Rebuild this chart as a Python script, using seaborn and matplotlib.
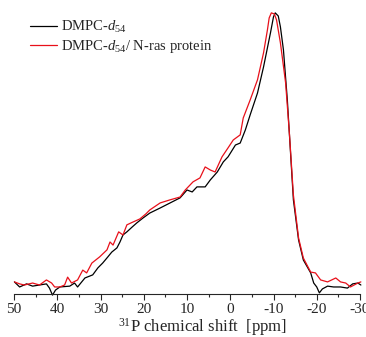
import numpy as np
import pandas as pd
import seaborn as sns
import matplotlib
matplotlib.use("Agg")
import matplotlib.pyplot as plt

# values (ppm, relative intensity)
ppm_lipid = [49.9, 48.7, 47.1, 45.7, 44.1, 42.5, 41.8, 41.1, 40.4, 39.4, 37.1, 36.0,
             35.3, 33.6, 31.8, 30.6, 29.5, 28.3, 27.4, 26.2, 25.5, 24.8, 23.9, 22.7,
             21.6, 20.2, 18.6, 16.2, 13.9, 11.6, 10.0, 8.8, 7.7, 5.8, 4.6, 3.0, 1.6,
             0.5, -1.2, -2.3, -3.5, -4.6, -6.3, -7.7, -9.3, -10.0, -10.4, -11.1,
             -11.6, -12.3, -13.2, -13.9, -14.6, -15.8, -16.9, -18.6, -19.3, -20.0,
             -20.6, -21.3, -22.5, -23.9, -25.5, -27.1, -28.3, -29.5, -30.2]
int_lipid = [4.3, 2.5, 3.6, 2.8, 3.2, 3.6, 2.1, -0.4, 1.4, 2.5, 2.8, 3.9,
             2.5, 5.7, 6.8, 9.3, 11.0, 13.2, 14.9, 16.4, 18.5, 21.0, 22.1, 23.8,
             25.3, 27.0, 28.8, 30.6, 32.4, 34.2, 37.0, 36.3, 38.1, 38.1, 40.6, 43.4, 47.0,
             48.8, 53.0, 53.7, 58.4, 63.7, 71.5, 80.8, 92.9, 98.6, 100.0, 98.9,
             95.0, 86.8, 69.0, 51.2, 33.5, 19.2, 12.1, 7.5, 3.9, 2.5,
             0.4, 1.8, 2.8, 2.5, 2.5, 2.1, 3.6, 3.9, 3.2]

ppm_ras = [49.9, 48.7, 47.6, 45.7, 44.1, 42.5, 41.3, 40.6, 39.4, 38.3, 37.6, 36.7,
           35.3, 34.1, 33.2, 32.0, 30.2, 28.5, 27.8, 27.1, 25.8, 24.8, 23.9, 22.5,
           20.9, 19.5, 18.6, 16.2, 13.9, 11.6, 10.4, 8.6, 7.0, 5.8, 4.6, 3.5, 1.9,
           0.5, -0.7, -2.3, -3.0, -4.6, -6.3, -7.7, -8.6, -9.0, -9.5, -10.2, -10.7,
           -11.6, -12.8, -13.7, -14.6, -15.8, -16.9, -18.6, -19.7, -20.9, -22.5,
           -24.4, -25.5, -26.7, -27.8, -29.5, -30.2]
int_ras = [4.3, 3.6, 3.2, 3.9, 3.2, 5.0, 3.9, 2.5, 2.5, 3.2, 6.0, 3.9,
           5.0, 8.5, 7.5, 11.0, 13.2, 15.7, 18.5, 17.4, 22.1, 21.0, 24.6, 25.6,
           26.7, 28.5, 29.9, 32.4, 33.5, 34.5, 37.0, 39.9, 41.3, 45.2, 44.1, 43.4, 48.8,
           52.0, 54.8, 56.6, 62.6, 69.0, 76.2, 85.8, 94.0, 98.2, 100.0, 99.6, 97.5,
           89.3, 75.1, 56.6, 35.2, 19.9, 12.8, 7.8, 7.5, 5.0, 4.3,
           5.7, 4.3, 3.9, 2.5, 3.9, 4.3]

lab_lipid = r"DMPC-$d_{54}$"
lab_ras = r"DMPC-$d_{54}$/ N-ras protein"

df = pd.concat([
    pd.DataFrame({"ppm": ppm_lipid, "I": int_lipid, "sample": lab_lipid}),
    pd.DataFrame({"ppm": ppm_ras, "I": int_ras, "sample": lab_ras}),
])

sns.set_style("ticks")
plt.rcParams["font.family"] = ["Liberation Serif", "DejaVu Serif"]
plt.rcParams["mathtext.fontset"] = "custom"
plt.rcParams["mathtext.rm"] = "Liberation Serif"
plt.rcParams["mathtext.it"] = "Liberation Serif:italic"
plt.rcParams["axes.unicode_minus"] = False

fig = plt.figure(figsize=(3.66, 3.37), dpi=100)
ax = fig.add_axes([14 / 366, 43 / 337, 346 / 366, 289 / 337])

sns.lineplot(data=df, x="ppm", y="I", hue="sample", estimator=None, sort=True,
             palette={lab_lipid: "black", lab_ras: "#e8101a"}, linewidth=0.9, ax=ax)
for ln in ax.lines:
    ln.set_clip_on(False)

ax.set_xlim(50, -30)
ax.set_ylim(0, 102.8)
ax.set_xticks(np.arange(50, -31, -10))
ax.set_xticks(np.arange(45, -30, -10), minor=True)
ax.tick_params(axis="x", which="major", length=4.5, width=0.8, labelsize=11, pad=2)
ax.tick_params(axis="x", which="minor", length=2.5, width=0.8)
ax.set_yticks([])
for s in ["left", "top", "right"]:
    ax.spines[s].set_visible(False)
ax.spines["bottom"].set_linewidth(0.8)

ax.set_ylabel("")
ax.set_xlabel(r"$^{31}$P chemical shift  [ppm]", fontsize=12, labelpad=1)
ax.xaxis.set_label_coords(0.545, -0.078)

ax.legend(loc="upper left", bbox_to_anchor=(0.046, 0.951), frameon=False, fontsize=10.5,
          handlelength=1.85, handletextpad=0.27, labelspacing=0.2,
          borderaxespad=0, borderpad=0)

fig.savefig("out.png", dpi=100)
